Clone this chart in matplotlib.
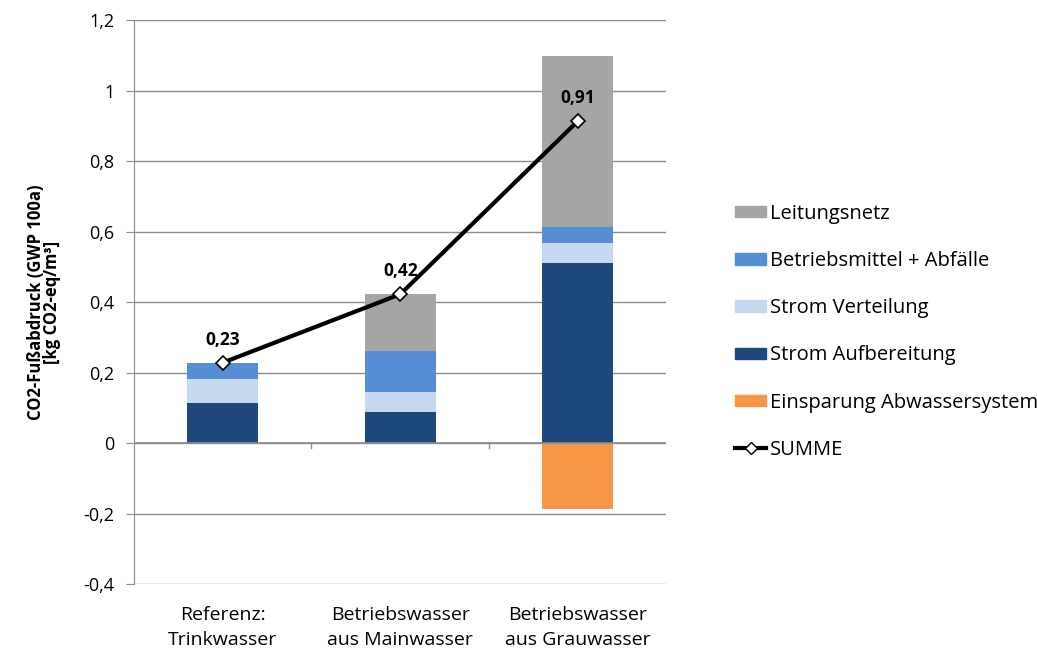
import matplotlib.pyplot as plt
import numpy as np
from matplotlib.patches import Patch
from matplotlib.lines import Line2D

plt.rcParams['font.family'] = ['Open Sans', 'DejaVu Sans']

# data
categories = ["Referenz:\nTrinkwasser", "Betriebswasser\naus Mainwasser", "Betriebswasser\naus Grauwasser"]
strom_aufbereitung = [0.113, 0.089, 0.510]
strom_verteilung = [0.068, 0.055, 0.058]
betriebsmittel = [0.047, 0.117, 0.045]
leitungsnetz = [0.0, 0.161, 0.485]
einsparung = [0.0, 0.0, -0.187]
summe = [0.228, 0.422, 0.913]
summe_labels = ["0,23", "0,42", "0,91"]

c_grau = "#A5A5A5"
c_betrieb = "#558ED5"
c_vert = "#C6D9F1"
c_aufb = "#1F497D"
c_orange = "#F79646"

fig = plt.figure(figsize=(10.37, 6.5), dpi=100)
ax = fig.add_axes([0.1292, 0.1015, 0.5135, 0.8677])

x = np.arange(len(categories))
w = 0.4
b1 = np.array(strom_aufbereitung)
b2 = b1 + np.array(strom_verteilung)
b3 = b2 + np.array(betriebsmittel)

ax.bar(x, strom_aufbereitung, w, color=c_aufb, zorder=3)
ax.bar(x, strom_verteilung, w, bottom=b1, color=c_vert, zorder=3)
ax.bar(x, betriebsmittel, w, bottom=b2, color=c_betrieb, zorder=3)
ax.bar(x, leitungsnetz, w, bottom=b3, color=c_grau, zorder=3)
ax.bar(x, einsparung, w, color=c_orange, zorder=3)

ax.plot(x, summe, color="black", lw=3, marker="D", ms=7, mfc="white", mec="black", mew=1.2, zorder=5)
for xi, yi, lab in zip(x, summe, summe_labels):
    ax.annotate(lab, (xi, yi), xytext=(0, 10), textcoords="offset points",
                ha="center", va="bottom", fontsize=12.5, fontweight="bold", zorder=6)

ax.set_xlim(-0.5, 2.5)
ax.set_ylim(-0.4, 1.2)
ax.set_yticks(np.arange(-0.4, 1.21, 0.2))
ax.set_yticklabels(["-0,4", "-0,2", "0", "0,2", "0,4", "0,6", "0,8", "1", "1,2"], fontsize=13)
ax.yaxis.grid(True, color="#8C8C8C", lw=1, zorder=0)
ax.axhline(0, color="#8C8C8C", lw=1.2, zorder=4)
for b in [0.5, 1.5]:
    ax.plot([b, b], [0, -0.015], color="#8C8C8C", lw=1, zorder=4, clip_on=False)

ax.set_xticks(x)
ax.set_xticklabels(categories, fontsize=14, linespacing=1.5)
ax.tick_params(axis="x", length=0, pad=16)
ax.tick_params(axis="y", length=6, color="#8C8C8C", pad=8)
for s in ["top", "right", "bottom"]:
    ax.spines[s].set_visible(False)
ax.spines["left"].set_color("#8C8C8C")

ax.set_ylabel("CO2-Fußabdruck (GWP 100a)\n[kg CO2-eq/m³]", fontsize=12, fontweight="bold",
              labelpad=16, linespacing=0.9)

handles = [
    Patch(color=c_grau, label="Leitungsnetz"),
    Patch(color=c_betrieb, label="Betriebsmittel + Abfälle"),
    Patch(color=c_vert, label="Strom Verteilung"),
    Patch(color=c_aufb, label="Strom Aufbereitung"),
    Patch(color=c_orange, label="Einsparung Abwassersystem"),
    Line2D([0], [0], color="black", lw=3, marker="D", ms=6, mfc="white", mec="black", label="SUMME"),
]
fig.legend(handles=handles, loc="upper left", bbox_to_anchor=(0.7088, 0.6864), frameon=False,
           fontsize=14.5, labelspacing=1.35, handlelength=1.55, handleheight=0.5, handletextpad=0.2,
           borderpad=0, borderaxespad=0)

fig.savefig("out.png", dpi=100)
